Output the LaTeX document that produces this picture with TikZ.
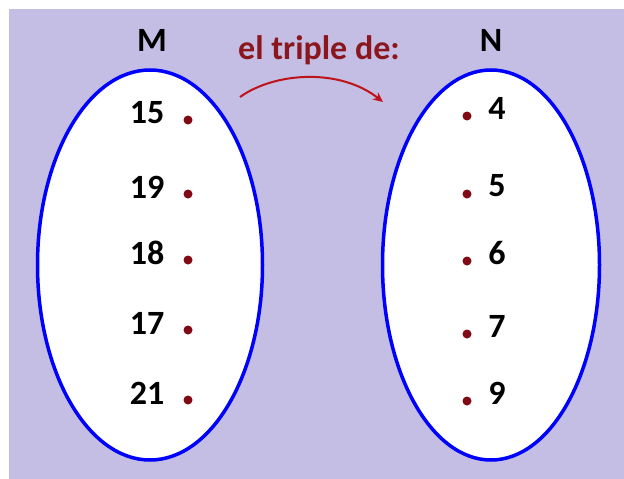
\documentclass[tikz,border=0pt]{standalone}
\usepackage{fontspec}
\setmainfont{Carlito}
\usetikzlibrary{shapes.geometric,arrows.meta}
\definecolor{lavanda}{RGB}{196,189,228}
\definecolor{granate}{RGB}{140,22,30}
\definecolor{punto}{RGB}{130,10,20}
\definecolor{flecha}{RGB}{190,20,25}
\begin{document}
\begin{tikzpicture}[x=1pt, y=-1pt,
    every node/.style={font=\bfseries\fontsize{34}{34}\selectfont, inner sep=0pt},
    conjunto/.style={ellipse, draw=blue, line width=3.5pt, fill=white},
    dot/.style={circle, fill=punto, minimum size=9pt}]
    \useasboundingbox (0,0) rectangle (624,479);
    \fill[white] (0,0) rectangle (624,479);
    \fill[lavanda] (9,9) rectangle (624,479);
    % Sets
    \node[conjunto, minimum width=225pt, minimum height=390pt] (setM) at (150,265) {};
    \node[conjunto, minimum width=217pt, minimum height=390pt] (setN) at (491,265) {};
    \node (labM) at (152,40) {M};
    \node (labN) at (491,40) {N};
    % Elements of M
    \foreach \n/\y in {15/113,19/187,18/253,17/323,21/393} {
        \node (m\n) at (147,\y) {\n};
        \node[dot] (pm\n) at (188,\y+7) {};
    }
    % Elements of N
    \foreach \n/\y in {4/108,5/186,6/253,7/326,9/393} {
        \node (n\n) at (497,\y) {\n};
        \node[dot] (pn\n) at (467,\y+8) {};
    }
    % Relation
    \node[text=granate] (rel) at (319,50) {el triple de:};
    \coordinate (a0) at (240,97);
    \coordinate (a1) at (383,102);
    \draw[flecha, line width=2pt, -{Stealth[length=10pt, width=9pt]}] (a0) .. controls (275,72) and (340,68) .. (a1);
\end{tikzpicture}
\end{document}
